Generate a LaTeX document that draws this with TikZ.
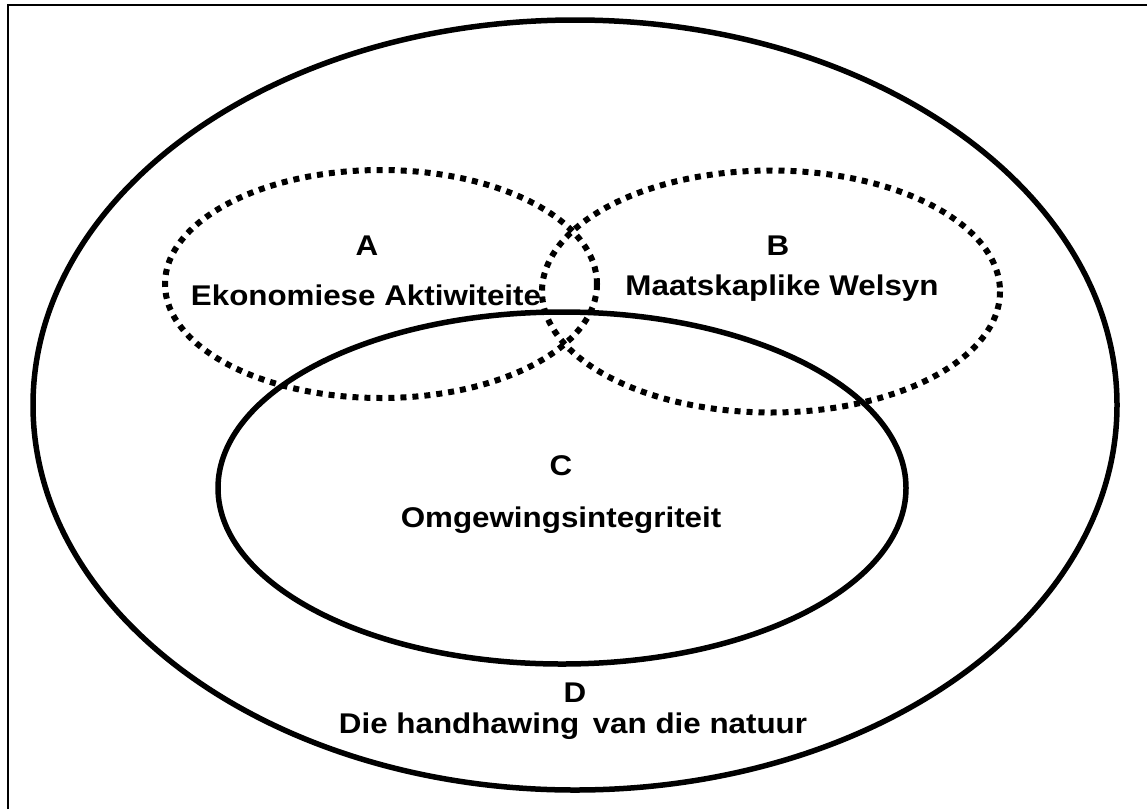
\documentclass[tikz,border=0pt]{standalone}
\usepackage{fontspec}
\newfontfamily\lblfont{Liberation Sans}[FakeStretch=1.1]
\begin{document}
\begin{tikzpicture}[x=1pt,y=-1pt,
  solidring/.style={draw=black,line width=5.5pt},
  dotring/.style={draw=black,line width=6pt,dash pattern=on 6pt off 6pt},
  lbl/.style={font=\lblfont\bfseries\fontsize{28.5}{30}\selectfont,inner sep=0pt,anchor=base}]
\useasboundingbox (0,0) rectangle (1147,809);
% frame (top and left only)
\draw[line width=2.5pt] (8,809) -- (8,5) -- (1147,5);
% D outer ellipse
\draw[solidring] (575,405) ellipse [x radius=542, y radius=385];
% A and B dotted ellipses
\draw[dotring] (381,284) ellipse [x radius=216, y radius=114];
\draw[dotring] (771,291.5) ellipse [x radius=229, y radius=121];
% C ellipse
\draw[solidring] (562,488) ellipse [x radius=344, y radius=176];
% labels
\node[lbl] (la) at (367,255) {A};
\node[lbl] (ta) at (366,305) {Ekonomiese Aktiwiteite};
\node[lbl] (lb) at (778,255) {B};
\node[lbl] (tb) at (782,295) {Maatskaplike Welsyn};
\node[lbl] (lc) at (561,475) {C};
\node[lbl] (tc) at (561,527) {Omgewingsintegriteit};
\node[lbl] (ld) at (575,702) {D};
\node[lbl] (td) at (573,733) {Die handhawing\, van die natuur};
\end{tikzpicture}
\end{document}
